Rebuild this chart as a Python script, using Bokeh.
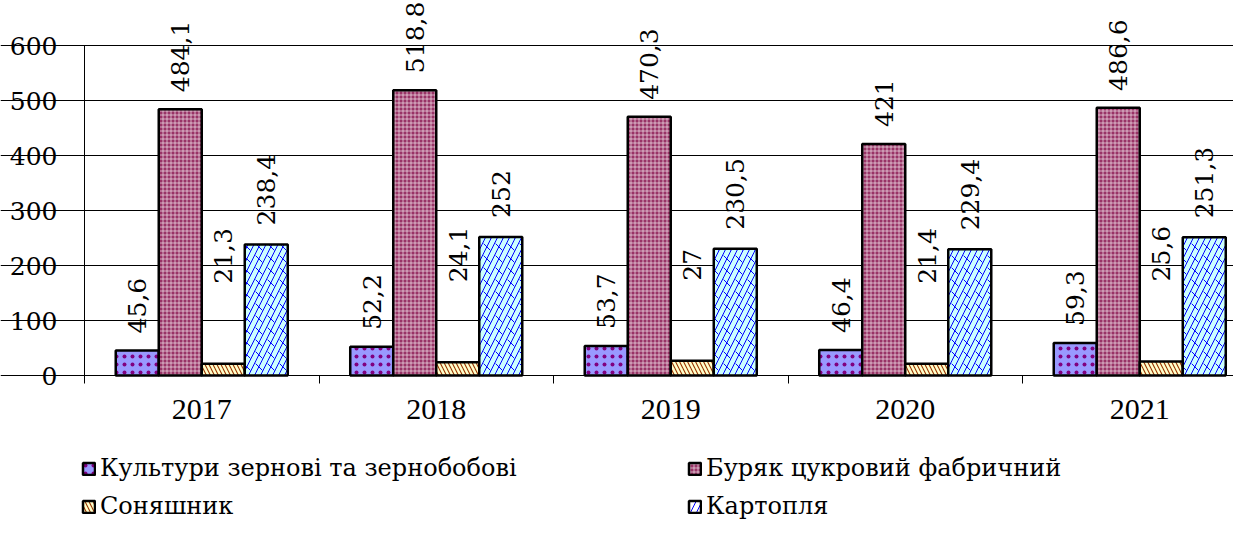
import numpy as np
from bokeh.plotting import figure
from bokeh.models import (ColumnDataSource, Range1d, FixedTicker, LabelSet, Legend, LegendItem,
                          LinearAxis, Grid)
from bokeh.core.properties import value
from bokeh.embed import file_html
from bokeh.resources import INLINE

years = ["2017", "2018", "2019", "2020", "2021"]
series_names = ["Культури зернові та зернобобові", "Буряк цукровий фабричний", "Соняшник", "Картопля"]
grain = [45.6, 52.2, 53.7, 46.4, 59.3]
beet = [484.1, 518.8, 470.3, 421, 486.6]
sunflower = [21.3, 24.1, 27, 21.4, 25.6]
potato = [238.4, 252, 230.5, 229.4, 251.3]
y_ticks = [0, 100, 200, 300, 400, 500, 600]

FONT_X = "Liberation Serif"
FONT = "DejaVu Serif"
W, H = 1233, 521
PX = 0.55
CAT = 234.5
AX_X, AX_Y = 84, 375

x_start = -0.5 - AX_X / CAT
x_end = -0.5 + (W - AX_X) / CAT
y_end = AX_Y / PX
y_start = -(H - AX_Y) / PX

p = figure(width=W, height=H, output_backend="svg", toolbar_location=None,
           x_range=Range1d(x_start, x_end), y_range=Range1d(y_start, y_end),
           min_border=0, x_axis_location=None, y_axis_location=None)
p.outline_line_color = None
p.background_fill_color = "white"
p.border_fill_color = "white"

yax = LinearAxis(fixed_location=-0.5)
xax = LinearAxis(fixed_location=0)
p.add_layout(xax, "below")
p.add_layout(yax, "left")

styles = [
    dict(fill_color="#9999FF", hatch_pattern="dot", hatch_color="#800080", hatch_scale=8, hatch_weight=0.5),
    dict(fill_color="#993366", hatch_pattern="cross", hatch_color="white", hatch_scale=4, hatch_weight=0.6),
    dict(fill_color="#FFFFCC", hatch_pattern="left_diagonal_line", hatch_color="#993300", hatch_scale=8, hatch_weight=1.1),
    None,
]
data = [grain, beet, sunflower, potato]
label_offsets = [17, 17, 80, 19]
bw = 0.1834
idx = np.arange(len(years))
renderers = []
for i, vals in enumerate(data):
    xs = idx + (i - 1.5) * bw
    src = ColumnDataSource(dict(x=xs, top=vals,
                                txt=[("%g" % v).replace(".", ",") for v in vals]))
    if i == 3:
        p.vbar(x="x", top="top", bottom=0, width=bw, source=src, fill_color="#CCFFFF",
               line_color=None)
        p.vbar(x="x", top="top", bottom=0, width=bw, source=src, fill_color=None,
               hatch_pattern="left_diagonal_dash", hatch_color="#0000FF", hatch_scale=12,
               hatch_weight=1, line_color=None)
        r = p.vbar(x="x", top="top", bottom=0, width=bw, source=src, fill_color=None,
                   hatch_pattern="right_diagonal_line", hatch_color="#0000FF", hatch_scale=12,
                   hatch_weight=1, line_color="black", line_width=2.5)
    else:
        r = p.vbar(x="x", top="top", bottom=0, width=bw, source=src,
                   line_color="black", line_width=2.5, **styles[i])
    renderers.append(r)
    lbl = LabelSet(x="x", y="top", text="txt", source=src, angle=np.pi / 2,
                   text_align="left", text_baseline="middle", y_offset=label_offsets[i],
                   text_font=value(FONT), text_font_size=value("25px"), text_color="black")
    p.add_layout(lbl)

yax.ticker = FixedTicker(ticks=y_ticks)
yax.bounds = (0, 600)
yax.axis_line_color = "black"
yax.major_tick_out = 9
yax.major_tick_in = 0
yax.minor_tick_line_color = None
yax.major_label_text_font = FONT
yax.major_label_text_font_size = "25px"
yax.major_label_text_color = "black"
yax.major_label_standoff = 18

xax.ticker = FixedTicker(ticks=list(range(len(years))),
                         minor_ticks=[k - 0.5 for k in range(len(years) + 1)])
xax.major_label_overrides = {k: y for k, y in enumerate(years)}
xax.bounds = (-0.5, x_end)
xax.axis_line_color = "black"
xax.major_tick_line_color = None
xax.minor_tick_line_color = "black"
xax.minor_tick_out = 8
xax.minor_tick_in = 0
xax.major_label_text_font = FONT_X
xax.major_label_text_font_size = "30px"
xax.major_label_text_color = "black"
xax.major_label_standoff = 16

p.xgrid.grid_line_color = None
p.ygrid.grid_line_color = None
g = Grid(dimension=1, ticker=FixedTicker(ticks=y_ticks), grid_line_color="black",
         grid_line_width=1, bounds=(-0.5, x_end))
p.add_layout(g)

def make_legend(items, loc):
    return Legend(items=items, location=loc, orientation="vertical",
                  label_text_font=FONT, label_text_font_size="24px", label_text_color="black",
                  glyph_width=15, glyph_height=15, label_height=30, spacing=8,
                  label_standoff=4, padding=0, margin=0,
                  border_line_color=None, background_fill_alpha=0)

lg1 = make_legend([LegendItem(label=series_names[0], renderers=[renderers[0]]),
                   LegendItem(label=series_names[2], renderers=[renderers[2]])], (81, 0))
lg2 = make_legend([LegendItem(label=series_names[1], renderers=[renderers[1]]),
                   LegendItem(label=series_names[3], renderers=[renderers[3]])], (687, 0))
p.add_layout(lg1, "center")
p.add_layout(lg2, "center")

open("out.html", "w").write(file_html(p, INLINE))
